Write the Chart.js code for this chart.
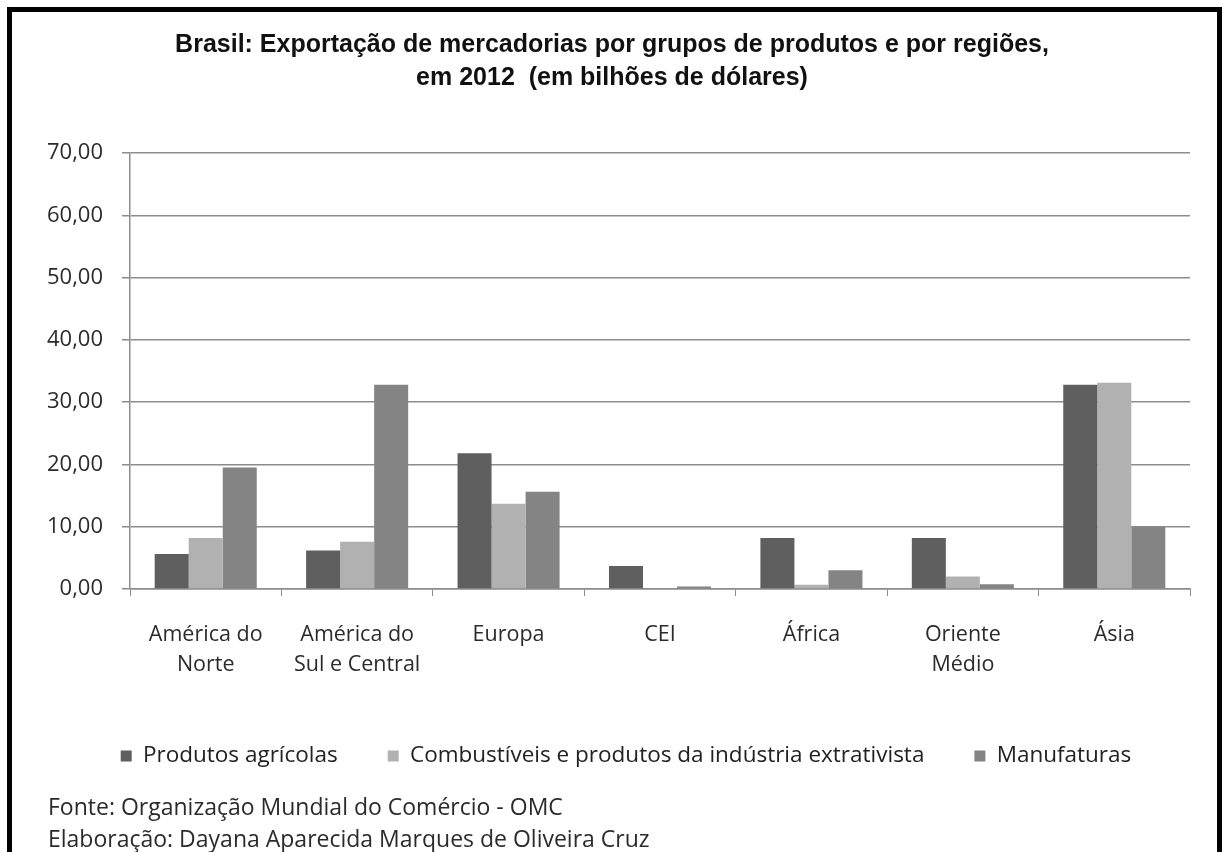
<!DOCTYPE html>
<html>
<head>
<meta charset="utf-8">
<script src="https://cdn.jsdelivr.net/npm/chart.js@4"></script>
<style>
  html, body { margin: 0; padding: 0; background: #fff; }
  #frame {
    position: absolute; left: 7px; top: 7px; width: 1215px; height: 860px;
    box-sizing: border-box; border: 5px solid #000; border-bottom: none;
  }
  #wrap { position: absolute; left: 0; top: 0; width: 1222px; height: 852px; }
  .fonte {
    position: absolute; left: 48px; font-family: "Open Sans", sans-serif;
    font-size: 23px; color: #2b2b2b; white-space: nowrap;
  }
</style>
</head>
<body>
<div id="frame"></div>
<div id="wrap"><canvas id="myChart" width="1222" height="852"></canvas></div>
<div class="fonte" style="top:790px">Fonte: Organização Mundial do Comércio - OMC</div>
<div class="fonte" style="top:822px">Elaboração: Dayana Aparecida Marques de Oliveira Cruz</div>
<script>
// regiões
const regioes = [
    ["América do", "Norte"],
    ["América do", "Sul e Central"],
    "Europa",
    "CEI",
    "África",
    ["Oriente", "Médio"],
    "Ásia"
];
// bilhões de dólares
const agricolas = [5.6, 6.2, 21.8, 3.7, 8.2, 8.2, 32.8];
const combustiveis = [8.2, 7.6, 13.7, 0.0, 0.7, 2.0, 33.1];
const manufaturas = [19.5, 32.8, 15.6, 0.4, 3.0, 0.75, 10.0];
const nomesSeries = ["Produtos agrícolas", "Combustíveis e produtos da indústria extrativista", "Manufaturas"];
const yTicks = [0, 10, 20, 30, 40, 50, 60, 70];

const cores = ["#5f5f5f", "#b1b1b1", "#848484"];
const gridColor = "#8c8c8c";

// a legenda do original fica um pouco à direita do centro
const legendShift = {
    id: 'legendShift',
    afterLayout: function (chart) {
        chart.legend.left += 14;
        chart.legend.right += 14;
    }
};

let ctx = document.getElementById('myChart').getContext('2d');
let myChart = new Chart(ctx, {
    type: 'bar',
    data: {
        labels: regioes,
        datasets: [
            { label: nomesSeries[0], data: agricolas, backgroundColor: cores[0] },
            { label: nomesSeries[1], data: combustiveis, backgroundColor: cores[1] },
            { label: nomesSeries[2], data: manufaturas, backgroundColor: cores[2] }
        ]
    },
    plugins: [legendShift],
    options: {
        responsive: false,
        animation: false,
        categoryPercentage: 0.674,
        barPercentage: 1.0,
        layout: { padding: { top: 0, right: 32, bottom: 74.75, left: 34 } },
        plugins: {
            title: {
                display: true,
                text: ["Brasil: Exportação de mercadorias por grupos de produtos e por regiões,",
                       "em 2012  (em bilhões de dólares)"],
                color: "#111",
                font: { family: "'Liberation Sans Narrow', 'Liberation Sans', sans-serif", size: 25, weight: 'bold', lineHeight: 1.32 },
                padding: { top: 28.5, bottom: 58.5 }
            },
            legend: {
                position: 'bottom',
                labels: {
                    boxWidth: 11,
                    boxHeight: 11,
                    padding: 50,
                    color: "#222",
                    font: { family: "'Open Sans', sans-serif", size: 22.5 }
                }
            },
            tooltip: { enabled: false }
        },
        scales: {
            x: {
                grid: { display: true, drawOnChartArea: false, drawTicks: true, tickLength: 7, color: gridColor, offset: true },
                border: { display: true, color: gridColor, width: 1.5 },
                ticks: {
                    color: "#2b2b2b",
                    padding: 24,
                    maxRotation: 0,
                    autoSkip: false,
                    font: { family: "'Open Sans', sans-serif", size: 21.5, lineHeight: 1.4 }
                },
                afterFit: function (scale) { scale.height = 105.75; }
            },
            y: {
                min: 0,
                max: 70,
                afterBuildTicks: function (scale) {
                    scale.ticks = yTicks.map(function (v) { return { value: v }; });
                },
                grid: { color: gridColor, lineWidth: 1.5, tickLength: 8 },
                border: { display: true, color: gridColor, width: 1.5 },
                ticks: {
                    color: "#2b2b2b",
                    padding: 19,
                    font: { family: "'Open Sans', sans-serif", size: 22 },
                    callback: function (v) { return v.toFixed(2).replace('.', ','); }
                },
                afterFit: function (scale) { scale.width = 96; }
            }
        }
    }
});
</script>
</body>
</html>
